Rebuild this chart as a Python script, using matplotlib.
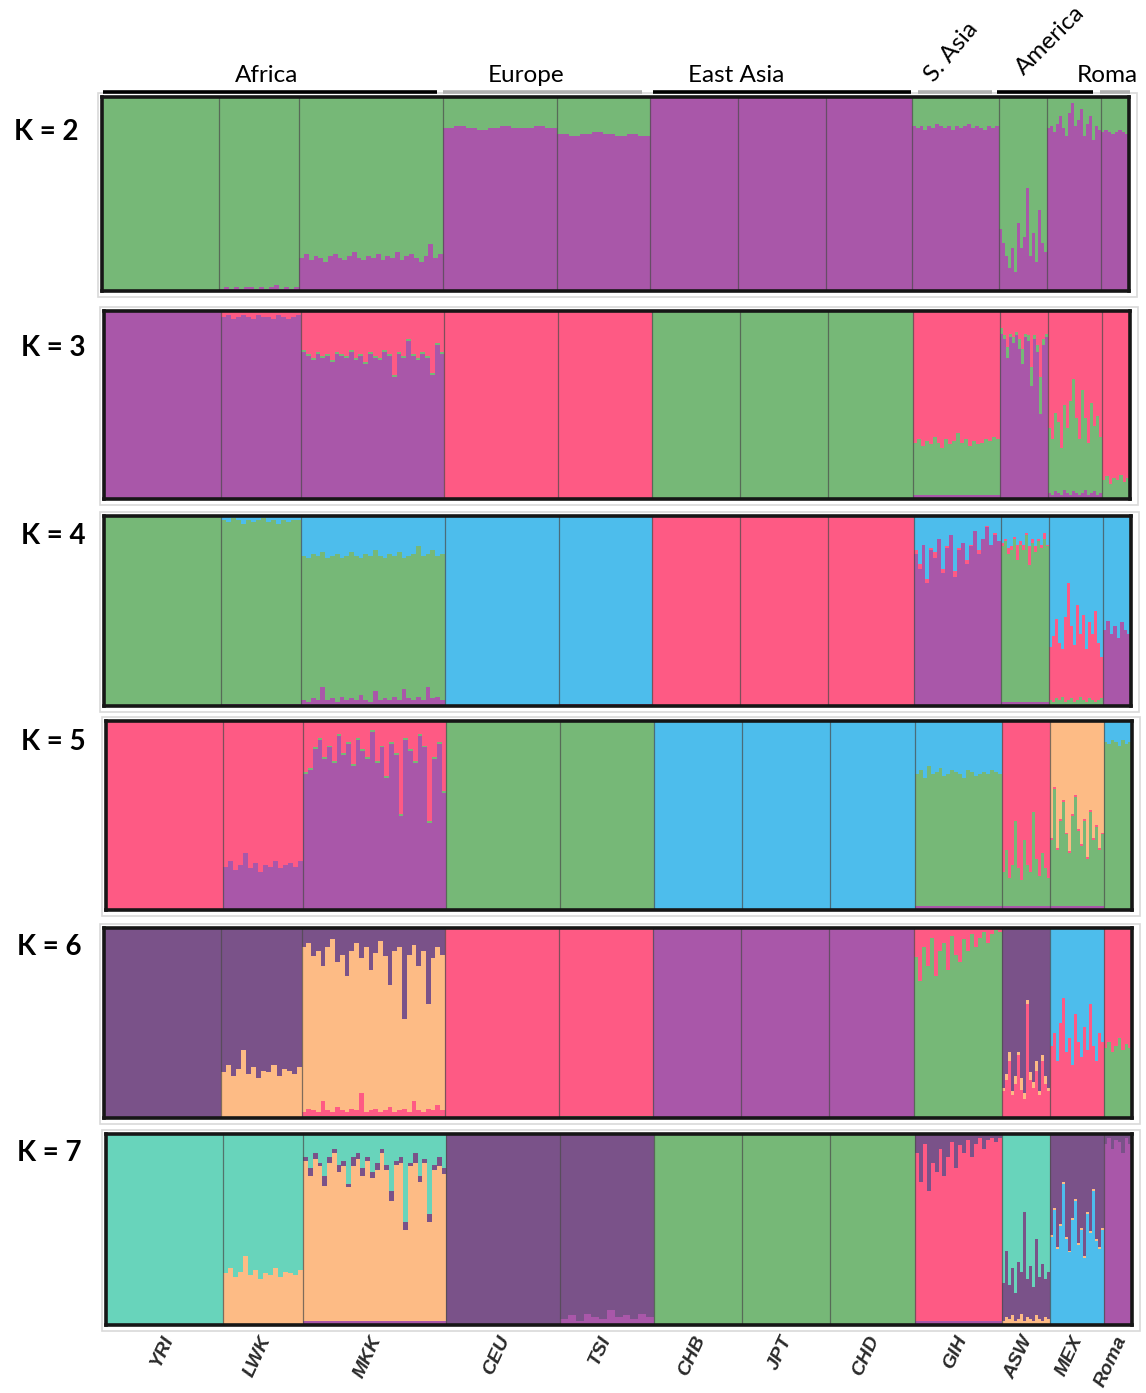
import matplotlib
matplotlib.use('Agg')
import matplotlib.pyplot as plt
from matplotlib.patches import Rectangle
from matplotlib.lines import Line2D
import numpy as np

# ---------------- data ----------------
populations = ['YRI', 'LWK', 'MKK', 'CEU', 'TSI', 'CHB', 'JPT', 'CHD', 'GIH', 'ASW', 'MEX', 'Roma']
sample_sizes = [117, 80, 143, 114, 93, 88, 88, 85, 87, 48, 54, 28]
region_names = ['Africa', 'Europe', 'East Asia', 'S. Asia', 'America', 'Roma']
k_values = [2, 3, 4, 5, 6, 7]

palette = {
    'green': '#76b877',
    'purple': '#a957a9',
    'pink': '#fe5a84',
    'blue': '#4dbdec',
    'orange': '#fdbb85',
    'dkpurple': '#7a5289',
    'teal': '#68d4bb',
}

# stacking order (bottom -> top) of the ancestry components for each K
k2_order = ['purple', 'green']
k3_order = ['purple', 'green', 'pink']
k4_order = ['purple', 'green', 'pink', 'blue']
k5_order = ['purple', 'green', 'pink', 'blue', 'orange']
k6_order = ['green', 'pink', 'orange', 'dkpurple', 'blue', 'purple']
k7_order = ['purple', 'pink', 'blue', 'orange', 'dkpurple', 'teal', 'green']

# per-population ancestry fractions (per individual group); None = remainder
mkk_k2_purple = [0.17, 0.19, 0.16, 0.18, 0.17, 0.15, 0.18, 0.19, 0.17, 0.16, 0.18, 0.20, 0.17, 0.16, 0.18,
                 0.17, 0.19, 0.16, 0.18, 0.17, 0.20, 0.16, 0.18, 0.19, 0.17, 0.15, 0.18, 0.24, 0.17, 0.19]
k2_data = {
    'YRI': {'green': None},
    'LWK': {'purple': [0.01, 0.02, 0.01, 0.02, 0.01, 0.02, 0.02, 0.01, 0.02, 0.01, 0.02, 0.03, 0.01, 0.02, 0.01, 0.02],
            'green': None},
    'MKK': {'purple': mkk_k2_purple, 'green': None},
    'CEU': {'purple': [0.84, 0.85, 0.84, 0.83, 0.84, 0.85, 0.84, 0.84, 0.85, 0.84], 'green': None},
    'TSI': {'purple': [0.81, 0.80, 0.81, 0.82, 0.81, 0.80, 0.81, 0.80], 'green': None},
    'CHB': {'purple': None},
    'JPT': {'purple': None},
    'CHD': {'purple': None},
    'GIH': {'purple': [0.85, 0.84, 0.85, 0.83, 0.85, 0.84, 0.86, 0.85, 0.84, 0.85, 0.83, 0.85, 0.84, 0.85, 0.86,
                       0.84, 0.85, 0.84, 0.83, 0.85, 0.84, 0.85], 'green': None},
    'ASW': {'purple': [0.32, 0.25, 0.18, 0.12, 0.22, 0.10, 0.35, 0.22, 0.28, 0.53, 0.18, 0.30, 0.15, 0.42, 0.25, 0.20],
            'green': None},
    'MEX': {'purple': [0.84, 0.85, 0.82, 0.86, 0.90, 0.84, 0.80, 0.92, 0.97, 0.85, 0.88, 0.94, 0.80, 0.86, 0.90,
                       0.78, 0.85, 0.83], 'green': None},
    'Roma': {'purple': [0.82, 0.83, 0.82, 0.81, 0.82, 0.83, 0.82, 0.81], 'green': None},
}

mkk_k3_purple = [0.78, 0.76, 0.74, 0.77, 0.75, 0.76, 0.73, 0.77, 0.76, 0.75, 0.78, 0.74, 0.76, 0.72, 0.77,
                 0.75, 0.74, 0.78, 0.76, 0.65, 0.77, 0.75, 0.84, 0.76, 0.74, 0.77, 0.75, 0.66, 0.82, 0.77]
k3_data = {
    'YRI': {'purple': None},
    'LWK': {'purple': [0.97, 0.98, 0.96, 0.97, 0.98, 0.97, 0.96, 0.98, 0.97, 0.97, 0.96, 0.98, 0.97, 0.96, 0.97, 0.98],
            'pink': None},
    'MKK': {'purple': mkk_k3_purple, 'green': [0.01], 'pink': None},
    'CEU': {'pink': None},
    'TSI': {'pink': None},
    'CHB': {'green': None},
    'JPT': {'green': None},
    'CHD': {'green': None},
    'GIH': {'purple': [0.02],
            'green': [0.28, 0.30, 0.26, 0.29, 0.27, 0.31, 0.28, 0.25, 0.30, 0.27, 0.29, 0.33, 0.28, 0.30, 0.26,
                      0.29, 0.27, 0.28, 0.30, 0.29, 0.31, 0.30],
            'pink': None},
    'ASW': {'purple': [0.88, 0.85, 0.75, 0.86, 0.83, 0.87, 0.80, 0.72, 0.86, 0.84, 0.60, 0.85, 0.78, 0.45, 0.82, 0.86],
            'green': [0.03, 0.02, 0.06, 0.02, 0.03, 0.02, 0.05, 0.08, 0.02, 0.03, 0.10, 0.02, 0.04, 0.20, 0.03, 0.02],
            'pink': None},
    'MEX': {'purple': [0.03, 0.02, 0.04, 0.03, 0.02, 0.05, 0.03, 0.02, 0.04, 0.03, 0.02, 0.03, 0.05, 0.02, 0.03,
                       0.04, 0.02, 0.03],
            'green': [0.35, 0.30, 0.42, 0.38, 0.25, 0.45, 0.35, 0.50, 0.60, 0.40, 0.30, 0.55, 0.38, 0.28, 0.48,
                      0.35, 0.42, 0.30],
            'pink': None},
    'Roma': {'green': [0.10, 0.12, 0.08, 0.11, 0.10, 0.13, 0.09, 0.11], 'pink': None},
}

k4_data = {
    'YRI': {'green': None},
    'LWK': {'purple': [0.01],
            'green': None,
            'blue': [0.02, 0.03, 0.01, 0.02, 0.04, 0.02, 0.03, 0.02, 0.01, 0.03, 0.02, 0.04, 0.02, 0.03, 0.02, 0.02]},
    'MKK': {'purple': [0.03, 0.02, 0.04, 0.03, 0.10, 0.03, 0.04, 0.02, 0.05, 0.03, 0.04, 0.03, 0.06, 0.03, 0.02,
                       0.08, 0.03, 0.04, 0.03, 0.05, 0.03, 0.09, 0.04, 0.03, 0.05, 0.03, 0.10, 0.04, 0.05, 0.03],
            'green': None,
            'blue': [0.21, 0.22, 0.20, 0.21, 0.19, 0.22, 0.21, 0.20, 0.22, 0.21, 0.19, 0.21, 0.22, 0.20, 0.21,
                     0.18, 0.21, 0.22, 0.20, 0.21, 0.19, 0.22, 0.21, 0.20, 0.16, 0.21, 0.20, 0.18, 0.21, 0.20]},
    'CEU': {'blue': None},
    'TSI': {'purple': [0.01], 'blue': None},
    'CHB': {'pink': None},
    'JPT': {'pink': None},
    'CHD': {'pink': None},
    'GIH': {'purple': [0.80, 0.72, 0.85, 0.65, 0.82, 0.78, 0.88, 0.70, 0.83, 0.90, 0.68, 0.82, 0.86, 0.75, 0.84,
                       0.92, 0.80, 0.88, 0.94, 0.85, 0.90, 0.87],
            'pink': [0.02, 0.03, 0.00, 0.02, 0.01, 0.03, 0.00, 0.02, 0.01, 0.00, 0.03, 0.01, 0.00, 0.02, 0.01,
                     0.00, 0.02, 0.00, 0.01, 0.00, 0.01, 0.00],
            'blue': None},
    'ASW': {'purple': [0.02],
            'green': [0.82, 0.85, 0.78, 0.80, 0.86, 0.75, 0.83, 0.80, 0.88, 0.72, 0.84, 0.79, 0.85, 0.81, 0.86, 0.82],
            'pink': [0.02, 0.01, 0.03, 0.02, 0.01, 0.08, 0.02, 0.03, 0.01, 0.10, 0.02, 0.03, 0.01, 0.02, 0.03, 0.01],
            'blue': None},
    'MEX': {'green': [0.03, 0.02, 0.04, 0.03, 0.05, 0.02, 0.03, 0.04, 0.02, 0.03, 0.05, 0.03, 0.02, 0.04, 0.03,
                      0.02, 0.03, 0.04],
            'pink': [0.28, 0.35, 0.42, 0.30, 0.25, 0.45, 0.62, 0.38, 0.30, 0.50, 0.33, 0.45, 0.28, 0.40, 0.35,
                     0.48, 0.30, 0.22],
            'blue': None},
    'Roma': {'purple': [0.40, 0.45, 0.38, 0.42, 0.36, 0.44, 0.40, 0.38], 'blue': None},
}

k5_data = {
    'YRI': {'pink': None},
    'LWK': {'purple': [0.23, 0.26, 0.21, 0.24, 0.30, 0.22, 0.25, 0.20, 0.24, 0.23, 0.26, 0.22, 0.24, 0.25, 0.23, 0.26],
            'pink': None},
    'MKK': {'purple': [0.72, 0.74, 0.85, 0.90, 0.80, 0.86, 0.78, 0.92, 0.82, 0.88, 0.76, 0.90, 0.84, 0.80, 0.94,
                       0.78, 0.86, 0.70, 0.88, 0.82, 0.50, 0.90, 0.84, 0.78, 0.92, 0.86, 0.46, 0.80, 0.88, 0.62],
            'green': [0.01],
            'pink': None},
    'CEU': {'green': None},
    'TSI': {'green': None},
    'CHB': {'blue': None},
    'JPT': {'blue': None},
    'CHD': {'blue': None},
    'GIH': {'purple': [0.02],
            'green': [0.70, 0.72, 0.68, 0.74, 0.70, 0.71, 0.73, 0.69, 0.70, 0.72, 0.71, 0.70, 0.68, 0.72, 0.71,
                      0.69, 0.70, 0.71, 0.70, 0.72, 0.71, 0.70],
            'blue': None},
    'ASW': {'purple': [0.02],
            'green': [0.18, 0.30, 0.15, 0.22, 0.45, 0.20, 0.14, 0.35, 0.22, 0.18, 0.50, 0.25, 0.16, 0.28, 0.20, 0.15],
            'pink': None},
    'MEX': {'purple': [0.02],
            'green': [0.35, 0.62, 0.30, 0.45, 0.55, 0.38, 0.28, 0.48, 0.58, 0.40, 0.32, 0.45, 0.25, 0.50, 0.35,
                      0.42, 0.30, 0.38],
            'pink': [0.01],
            'orange': None},
    'Roma': {'green': [0.89, 0.88, 0.90, 0.89, 0.87, 0.90, 0.88, 0.89], 'blue': None},
}

k6_data = {
    'YRI': {'dkpurple': None},
    'LWK': {'orange': [0.24, 0.28, 0.22, 0.26, 0.36, 0.23, 0.27, 0.21, 0.25, 0.24, 0.28, 0.22, 0.26, 0.25, 0.23, 0.27],
            'dkpurple': None},
    'MKK': {'green': [0.01],
            'pink': [0.02, 0.04, 0.03, 0.02, 0.08, 0.03, 0.02, 0.05, 0.03, 0.02, 0.04, 0.03, 0.12, 0.02, 0.03,
                     0.04, 0.02, 0.03, 0.05, 0.02, 0.03, 0.04, 0.02, 0.08, 0.03, 0.02, 0.04, 0.03, 0.06, 0.03],
            'orange': None,
            'dkpurple': [0.10, 0.08, 0.15, 0.12, 0.20, 0.10, 0.06, 0.18, 0.14, 0.25, 0.12, 0.08, 0.16, 0.10, 0.22,
                         0.13, 0.07, 0.15, 0.30, 0.12, 0.10, 0.48, 0.14, 0.09, 0.20, 0.12, 0.40, 0.16, 0.10, 0.14]},
    'CEU': {'pink': None},
    'TSI': {'green': [0.01], 'pink': None},
    'CHB': {'purple': None},
    'JPT': {'purple': None},
    'CHD': {'purple': None},
    'GIH': {'green': [0.85, 0.72, 0.90, 0.80, 0.95, 0.75, 0.88, 0.92, 0.78, 0.96, 0.86, 0.82, 0.94, 0.88, 0.97,
                      0.90, 0.95, 0.98, 0.92, 0.97, 0.99, 0.98],
            'pink': None},
    'ASW': {'pink': [0.14, 0.20, 0.30, 0.12, 0.18, 0.33, 0.15, 0.10, 0.60, 0.20, 0.16, 0.25, 0.12, 0.30, 0.18, 0.14],
            'orange': [0.02, 0.03, 0.05, 0.02, 0.04, 0.02, 0.06, 0.03, 0.02, 0.04, 0.03, 0.05, 0.02, 0.03, 0.04, 0.02],
            'dkpurple': None},
    'MEX': {'pink': [0.38, 0.45, 0.30, 0.50, 0.63, 0.35, 0.42, 0.28, 0.55, 0.40, 0.32, 0.48, 0.36, 0.60, 0.38,
                     0.30, 0.45, 0.40],
            'blue': None},
    'Roma': {'green': [0.37, 0.40, 0.35, 0.38, 0.42, 0.36, 0.39, 0.37], 'pink': None},
}

k7_data = {
    'YRI': {'teal': None},
    'LWK': {'orange': [0.27, 0.30, 0.25, 0.28, 0.36, 0.26, 0.29, 0.24, 0.27, 0.26, 0.30, 0.25, 0.28, 0.27, 0.26, 0.29],
            'teal': None},
    'MKK': {'purple': [0.02],
            'orange': None,
            'dkpurple': [0.02, 0.04, 0.03, 0.02, 0.05, 0.03, 0.02, 0.04, 0.03, 0.02, 0.05, 0.03, 0.04, 0.02, 0.03,
                         0.04, 0.02, 0.03, 0.05, 0.02, 0.03, 0.04, 0.02, 0.05, 0.03, 0.02, 0.04, 0.03, 0.05, 0.03],
            'teal': [0.12, 0.18, 0.10, 0.15, 0.22, 0.12, 0.08, 0.16, 0.14, 0.26, 0.12, 0.10, 0.18, 0.12, 0.20,
                     0.15, 0.08, 0.16, 0.30, 0.14, 0.12, 0.46, 0.15, 0.10, 0.22, 0.13, 0.42, 0.16, 0.12, 0.18]},
    'CEU': {'dkpurple': None},
    'TSI': {'purple': [0.03, 0.05, 0.02, 0.06, 0.04, 0.03, 0.08, 0.04, 0.05, 0.03, 0.06, 0.04], 'dkpurple': None},
    'CHB': {'green': None},
    'JPT': {'green': None},
    'CHD': {'green': None},
    'GIH': {'purple': [0.02],
            'pink': None,
            'dkpurple': [0.10, 0.25, 0.05, 0.30, 0.15, 0.20, 0.08, 0.22, 0.12, 0.04, 0.18, 0.06, 0.10, 0.03, 0.12,
                         0.05, 0.02, 0.08, 0.03, 0.02, 0.04, 0.02]},
    'ASW': {'orange': [0.02, 0.04, 0.03, 0.05, 0.02, 0.03, 0.06, 0.02, 0.04, 0.03, 0.02, 0.05, 0.03, 0.02, 0.04, 0.03],
            'dkpurple': [0.20, 0.35, 0.18, 0.25, 0.15, 0.30, 0.22, 0.57, 0.20, 0.28, 0.18, 0.40, 0.22, 0.30, 0.20, 0.25],
            'teal': None},
    'MEX': {'blue': [0.46, 0.60, 0.40, 0.52, 0.74, 0.45, 0.38, 0.55, 0.65, 0.42, 0.50, 0.35, 0.58, 0.48, 0.70,
                     0.44, 0.40, 0.50],
            'orange': [0.01],
            'dkpurple': None},
    'Roma': {'purple': None, 'dkpurple': [0.05, 0.02, 0.08, 0.03, 0.04, 0.10, 0.02, 0.05]},
}

panel_orders = [k2_order, k3_order, k4_order, k5_order, k6_order, k7_order]
panel_data = [k2_data, k3_data, k4_data, k5_data, k6_data, k7_data]

# ---------------- drawing ----------------
W, H = 1146, 1393
fig = plt.figure(figsize=(W / 100, H / 100), dpi=100)
fig.patch.set_facecolor('white')


def px(x, y):
    return x / W, 1 - y / H


def axes_rect(x0, y0, x1, y1):
    return [x0 / W, 1 - y1 / H, (x1 - x0) / W, (y1 - y0) / H]


panel_boxes = [(102, 97, 1129, 291), (104, 311, 1130, 499), (104, 516, 1131, 706),
               (106, 721, 1132, 910), (104, 928, 1132, 1118), (106, 1134, 1132, 1325)]
label_pos = [(46, 132), (53, 348), (53, 536), (53, 742), (49, 947), (49, 1153)]

total = sum(sample_sizes)
bounds = np.cumsum([0] + sample_sizes)


def draw_panel(ax, order, data):
    for pop, n, start in zip(populations, sample_sizes, bounds[:-1]):
        entry = data[pop]
        lens = [len(v) for v in entry.values() if v is not None]
        m = max(lens) if lens else 1
        vals = {}
        for comp, v in entry.items():
            if v is None:
                continue
            arr = np.asarray(v, float)
            if arr.size == 1:
                arr = np.repeat(arr, m)
            vals[comp] = arr
        rest = [c for c, v in entry.items() if v is None]
        if rest:
            s = np.zeros(m)
            for a in vals.values():
                s = s + a
            vals[rest[0]] = np.clip(1 - s, 0, None)
        w = n / m
        x = start + np.arange(m) * w
        bottom = np.zeros(m)
        for comp in order:
            if comp in vals:
                ax.bar(x, vals[comp], width=w, bottom=bottom, align='edge',
                       color=palette[comp], linewidth=0, antialiased=False)
                bottom = bottom + vals[comp]
    for b in bounds[1:-1]:
        ax.axvline(b, color='#4a4a4a', lw=0.9, alpha=0.7)
    ax.set_xlim(0, total)
    ax.set_ylim(0, 1)
    ax.set_xticks([])
    ax.set_yticks([])
    for sp in ax.spines.values():
        sp.set_linewidth(2.6)
        sp.set_color('#161616')


for k, order, data, box, lp in zip(k_values, panel_orders, panel_data, panel_boxes, label_pos):
    ax = fig.add_axes(axes_rect(*box))
    draw_panel(ax, order, data)
    x0, y0, x1, y1 = box
    fx, fy = px(x0 - 4, y1 + 6)
    fw, fh = (x1 - x0 + 12) / W, (y1 - y0 + 10) / H
    fig.patches.append(Rectangle((fx, fy), fw, fh, transform=fig.transFigure,
                                 fill=False, edgecolor='#d9d9d9', lw=1.2))
    tx, ty = px(*lp)
    fig.text(tx, ty, f'K = {k}', ha='center', va='center', fontsize=20,
             fontweight='bold', family='Lato', color='black')

# region header lines & labels
region_lines = [(103, 437, 'black'), (443, 642, '#b0b0b0'), (653, 911, 'black'),
                (918, 992, '#b0b0b0'), (997, 1093, 'black'), (1100, 1130, '#b0b0b0')]
for (x0, x1, c) in region_lines:
    a = px(x0, 92)
    b = px(x1, 92)
    fig.add_artist(Line2D([a[0], b[0]], [a[1], b[1]], transform=fig.transFigure,
                          color=c, lw=2.6, solid_capstyle='butt'))

region_text = [(267, 76, 0), (526, 76, 0), (736, 76, 0), (952, 52, 50), (1050, 40, 45), (1107, 76, 0)]
for name, (x, y, rot) in zip(region_names, region_text):
    tx, ty = px(x, y)
    fig.text(tx, ty, name, ha='center', va='center', rotation=rot, fontsize=17.5,
             family='Lato', color='black')

# population labels under the last panel
label_x = [162, 258, 368, 497, 600, 692, 780, 866, 955, 1019, 1070, 1111]
for name, x in zip(populations, label_x):
    tx, ty = px(x, 1333)
    fig.text(tx, ty, name, ha='center', va='top', rotation=65, fontsize=14,
             fontweight='bold', fontstyle='italic', family='Liberation Sans', color='#2a2a2a')

fig.savefig('out.png', dpi=100, facecolor='white')
